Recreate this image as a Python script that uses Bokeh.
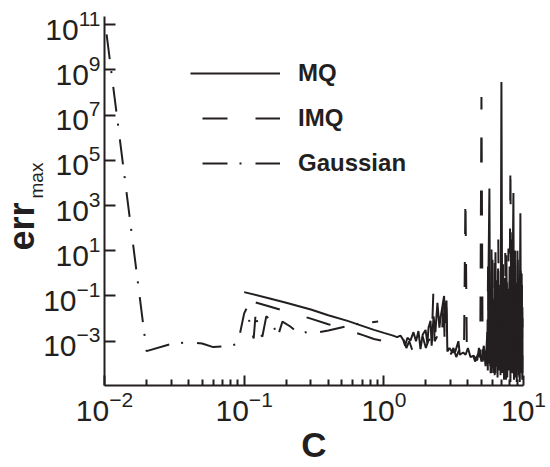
from bokeh.plotting import figure
from bokeh.models import FixedTicker, Legend, LegendItem, Title
from bokeh.embed import file_html
from bokeh.resources import INLINE

INK = "#231f20"
FONT = "Liberation Sans"

# ---- data (log10 of err_max) ----
gauss_c = [0.0101, 0.02, 0.03, 0.04, 0.05, 0.06, 0.07, 0.08, 0.09, 0.1,
           0.104, 0.111, 0.117, 0.121, 0.127, 0.135, 0.144, 0.159, 0.173, 0.188,
           0.214, 0.237, 0.261, 0.298, 0.339, 0.401, 0.53, 0.68, 0.91]
gauss_log_err = [11.1, -3.44, -3.12, -3.04, -3.1, -3.26, -3.23, -3.19, -3.12, -1.77,
                 -1.55, -2.35, -2.88, -1.73, -2.61, -2.79, -1.90, -2.13, -2.84, -2.13,
                 -2.35, -2.57, -2.66, -2.53, -2.61, -2.53, -2.35, -2.21, -2.13]

mq_c = [0.1, 0.15, 0.2, 0.3, 0.4, 0.55, 0.7, 0.85, 1.0, 1.15, 1.245,
        1.315, 1.38, 1.42, 1.475, 1.55, 1.63, 1.7, 1.77, 1.83, 1.9, 1.99, 2.05,
        2.09, 2.16, 2.2, 2.27, 2.34, 2.42, 2.5, 2.54, 2.62, 2.7, 2.75, 2.81,
        2.85, 2.95, 3.1, 3.25, 3.42, 3.5, 3.7, 3.85, 4.0, 4.17, 4.4, 4.66,
        4.8, 5.0, 5.2, 5.35, 5.51,
        5.55, 5.62, 5.70, 5.78, 5.85, 5.93, 6.00, 6.08, 6.15, 6.22, 6.30, 6.38,
        6.45, 6.52, 6.60, 6.68, 6.75, 6.85, 6.95, 7.05, 7.15, 7.25, 7.35, 7.45,
        7.55, 7.65, 7.75, 7.85, 7.95, 8.06, 8.15, 8.25, 8.35, 8.47, 8.55, 8.65,
        8.75, 8.85, 8.95, 9.05, 9.15, 9.25, 9.35, 9.50, 9.60, 9.70, 9.80, 9.88,
        9.95]
mq_log_err = [-0.83, -1.10, -1.30, -1.60, -1.85, -2.10, -2.32, -2.50, -2.63, -2.74, -2.82,
              -2.75, -2.95, -3.2, -2.85, -2.97, -2.6, -3.0, -2.55, -3.35, -2.7, -2.5, -3.1,
              -2.4, -2.1, -3.2, -1.9, -2.6, -1.3, -2.4, -2.0, -1.5, -1.0, -2.2, -1.2,
              -3.45, -3.3, -3.5, -3.45, -3.0, -3.6, -3.5, -3.6, -3.3, -3.7, -3.65, -3.85,
              -3.3, -3.9, -3.2, -4.1, -2.6,
              -4.3, 0.2, 3.75, -4.1, -0.5, -4.4, 0.6, -4.2, -1.2, -4.5, 0.94, -4.0,
              -0.3, -4.6, 0.1, -4.3, -0.8, -4.5, 8.47, -4.4, 0.4, -4.7, -0.2, -4.2,
              0.8, -4.6, -1.0, -4.3, 0.3, -4.8, 1.5, -4.4, -0.6, 3.56, -4.7, 0.5,
              -4.5, -0.4, -4.8, 1.0, -4.3, -0.2, -4.6, 2.66, -4.4, 0.0, -4.7, -1.5,
              -4.5]

imq_c = [0.1, 0.15, 0.2, 0.3, 0.4, 0.55, 0.7, 0.85, 1.0, 1.15, 1.3,
         1.38, 1.45, 1.52, 1.6, 1.7, 1.8, 1.9, 2.0, 2.1, 2.2, 2.26, 2.31, 2.45,
         2.6, 2.67, 2.72, 2.8, 2.85,
         2.9, 3.0, 3.15, 3.3, 3.45, 3.6, 3.75, 3.84, 3.93, 4.1, 4.3, 4.5, 4.7,
         4.9, 5.0, 5.1, 5.25, 5.4,
         5.5, 5.58, 5.66, 5.74, 5.82, 5.9, 5.98, 6.06, 6.14, 6.22, 6.3, 6.4,
         6.5, 6.6, 6.7, 6.8, 6.9, 7.0, 7.1, 7.2, 7.3, 7.4, 7.5, 7.6, 7.7, 7.8,
         7.9, 8.06, 8.2, 8.3, 8.4, 8.5, 8.6, 8.7, 8.8, 8.9, 9.0, 9.1, 9.2, 9.3,
         9.4, 9.55, 9.65, 9.75, 9.85, 9.95]
imq_log_err = [-1.15, -1.45, -1.68, -2.0, -2.25, -2.5, -2.72, -2.9, -3.0, -3.1, -3.2,
               -2.9, -3.3, -3.0, -3.4, -2.9, -3.2, -2.8, -3.3, -2.9, -3.1, -0.9, -3.0, -2.7,
               -3.1, -0.9, -2.8, -1.5, -3.5,
               -3.4, -3.6, -3.3, -3.7, -3.4, -3.8, -3.5, 3.42, -3.6, -3.8, -3.5, -3.9, -3.6,
               -3.7, 7.8, -3.9, -3.5, -4.0,
               -4.0, 0.5, -4.3, -1.0, -4.5, 1.2, -4.2, -0.6, -4.4, 0.8, -4.6, -0.2,
               -4.3, 1.5, -4.5, -0.5, -4.2, 0.3, -4.6, -1.1, -4.4, 0.9, -4.7, -0.4, -4.3, 1.1,
               -4.6, 4.87, -4.5, 0.2, -4.8, -0.7, -4.4, 1.3, -4.6, -0.3, -4.7, 0.6, -4.5, -1.0,
               -4.8, 0.4, -4.6, -0.5, -4.4, -2.0]

x_major = [1e-2, 1e-1, 1e0, 1e1]
y_major = [1e-3, 1e-1, 1e1, 1e3, 1e5, 1e7, 1e9, 1e11]

to_err = lambda logs: [10 ** v for v in logs]

p = figure(width=550, height=467, x_axis_type="log", y_axis_type="log",
           x_range=(1e-2, 1e1), y_range=(1.1e-5, 2.3e11),
           output_backend="svg", toolbar_location=None,
           min_border_left=104, min_border_right=27, min_border_top=16,
           min_border_bottom=82)
p.outline_line_color = None
p.grid.visible = False
p.background_fill_color = "white"

r_mq = p.line(mq_c, to_err(mq_log_err), line_color=INK, line_width=2)
r_imq = p.line(imq_c, to_err(imq_log_err), line_color=INK, line_width=2,
               line_dash="25 28", line_dash_offset=41)
r_g = p.line(gauss_c, to_err(gauss_log_err), line_color=INK, line_width=2,
             line_dash="25 12 2 14", line_dash_offset=41)

minor = [m * d for d in (1e-2, 1e-1, 1e0) for m in range(2, 10)]
p.xaxis.ticker = FixedTicker(ticks=x_major, minor_ticks=minor)
p.yaxis.ticker = FixedTicker(ticks=y_major, minor_ticks=[])

for ax in (p.xaxis[0], p.yaxis[0]):
    ax.axis_line_color = INK
    ax.axis_line_width = 2
    ax.major_tick_line_color = INK
    ax.major_tick_line_width = 2
    ax.minor_tick_line_color = INK
    ax.minor_tick_line_width = 2
    ax.major_tick_out = 0
    ax.minor_tick_out = 0
    ax.major_label_text_font = FONT
    ax.major_label_text_font_size = "30px"
    ax.major_label_text_color = INK
p.xaxis.major_tick_in = 10
p.xaxis.minor_tick_in = 6
p.yaxis.major_tick_in = 11
p.yaxis.minor_tick_in = 0
p.xaxis.major_label_standoff = 5
p.yaxis.major_label_standoff = 4

# x title "C"
t_c = Title(text="C", align="center", vertical_align="bottom", standoff=-2,
            text_font=FONT, text_font_size="35px", text_font_style="bold",
            text_color=INK)
p.add_layout(t_c, "below")

# y title "err" with subscript "max"
t_max = Title(text="max", align="left", vertical_align="bottom", offset=187,
              standoff=-13, text_font=FONT, text_font_size="19px",
              text_font_style="normal", text_color=INK)
t_err = Title(text="err", align="left", vertical_align="bottom", offset=135,
              standoff=-22, text_font=FONT, text_font_size="36px",
              text_font_style="bold", text_color=INK)
p.add_layout(t_max, "left")
p.add_layout(t_err, "left")

legend = Legend(items=[LegendItem(label="MQ", renderers=[r_mq]),
                       LegendItem(label="IMQ", renderers=[r_imq]),
                       LegendItem(label="Gaussian", renderers=[r_g])],
                location=(86, 207), glyph_width=90, glyph_height=30,
                label_height=30, spacing=15, padding=10, margin=0,
                label_standoff=18, border_line_color=None,
                background_fill_alpha=0,
                label_text_font=FONT, label_text_font_size="24px",
                label_text_font_style="bold", label_text_color=INK)
p.add_layout(legend)

open("out.html", "w").write(file_html(p, INLINE))
